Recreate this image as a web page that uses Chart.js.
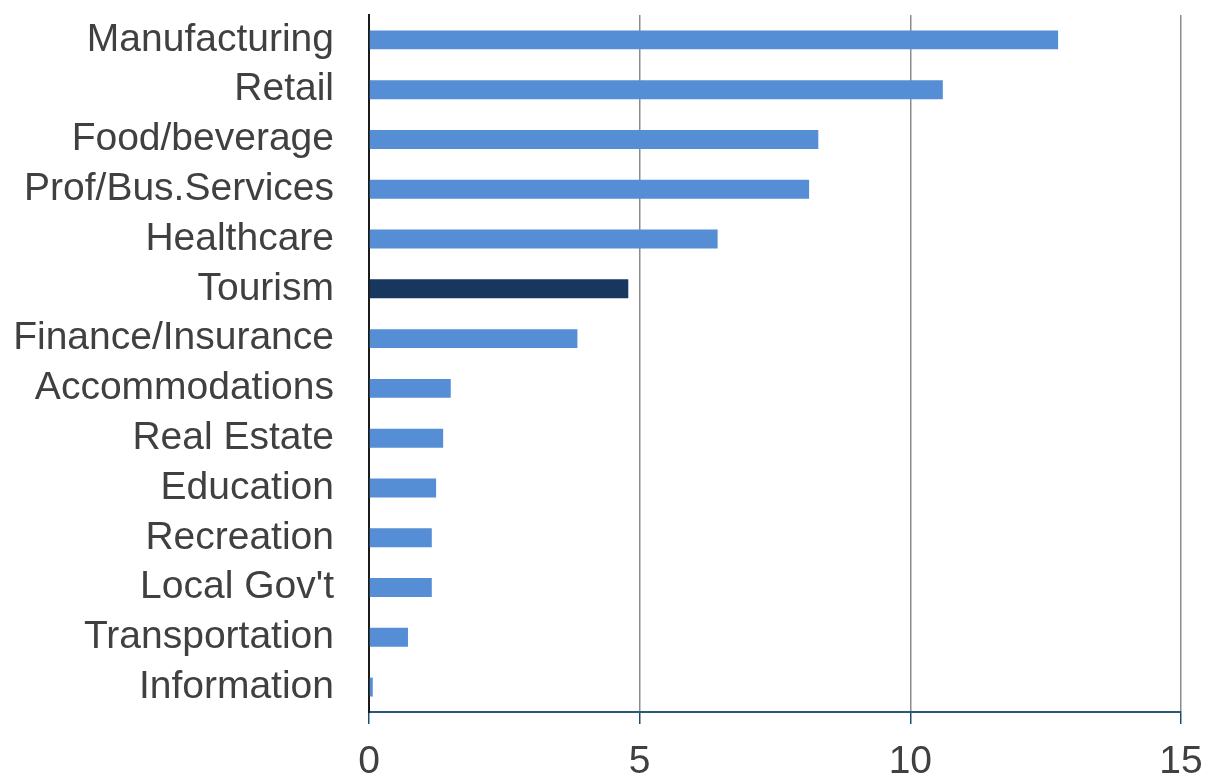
<!DOCTYPE html>
<html>
<head>
<meta charset="utf-8">
<script src="https://cdn.jsdelivr.net/npm/chart.js@4/dist/chart.umd.min.js"></script>
<style>
  html, body { margin: 0; padding: 0; background: #fff; }
  #wrap { width: 1209px; height: 777px; }
</style>
</head>
<body>
<div id="wrap"><canvas id="myChart" width="1209" height="777"></canvas></div>
<script>
var categories = ['Manufacturing', 'Retail', 'Food/beverage', 'Prof/Bus.Services', 'Healthcare',
                  'Tourism', 'Finance/Insurance', 'Accommodations', 'Real Estate', 'Education',
                  'Recreation', "Local Gov't", 'Transportation', 'Information'];
var values = [12.73, 10.6, 8.3, 8.13, 6.44, 4.79, 3.85, 1.51, 1.37, 1.24, 1.16, 1.16, 0.72, 0.07];
var xTicks = [0, 5, 10, 15];
var highlight = 'Tourism';

var textColor = '#404040';
var font = { family: '"Liberation Sans", Arial, sans-serif', size: 39 };

// chart.js pads the plot for the outer tick labels; the reference has none of that
function noPad(scale) {
    scale.paddingTop = 0;
    scale.paddingBottom = 0;
    scale.paddingLeft = 0;
    scale.paddingRight = 0;
}

var ctx = document.getElementById('myChart').getContext('2d');

var myBarChart = new Chart(ctx, {
    type: 'bar',
    data: {
        labels: categories,
        datasets: [{
            data: values,
            backgroundColor: function(c) {
                return categories[c.dataIndex] === highlight ? '#17375e' : '#558ed5';
            },
            barPercentage: 0.38,
            categoryPercentage: 1
        }]
    },
    options: {
        indexAxis: 'y',
        responsive: false,
        animation: false,
        layout: { padding: { top: 15, right: 28, left: 0, bottom: 0 } },
        plugins: {
            legend: { display: false },
            tooltip: { enabled: false }
        },
        scales: {
            x: {
                min: 0,
                max: 15,
                afterBuildTicks: function(scale) {
                    scale.ticks = xTicks.map(function(v) { return { value: v }; });
                },
                afterFit: function(scale) { scale.height = 65; noPad(scale); },
                grid: {
                    color: function(c) { return c.tick && c.tick.value === 0 ? 'rgba(0,0,0,0)' : '#8c8c8c'; },
                    lineWidth: 1.5,
                    tickColor: '#1f4e6e',
                    tickLength: 12
                },
                border: { color: '#2a5a78', width: 2 },
                ticks: { color: textColor, font: font, padding: 15, maxRotation: 0 }
            },
            y: {
                afterFit: function(scale) { scale.width = 369; noPad(scale); },
                grid: { display: false, drawTicks: false },
                border: { color: '#1a1a1a', width: 2 },
                ticks: { color: textColor, font: font, padding: 35, autoSkip: false }
            }
        }
    }
});
</script>
</body>
</html>
